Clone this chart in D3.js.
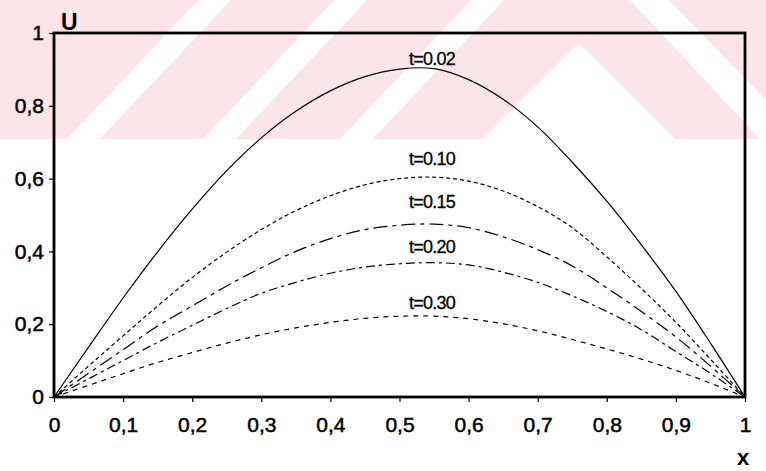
<!DOCTYPE html>
<html>
<head>
<meta charset="utf-8">
<script src="https://cdn.jsdelivr.net/npm/d3@7/dist/d3.min.js"></script>
<style>
html,body{margin:0;padding:0;background:#fff;}
svg{display:block;}
text{font-family:"Liberation Sans",Arial,sans-serif;fill:#000;}
</style>
</head>
<body>
<svg id="chart" width="766" height="471"></svg>
<script>
// ---- data ----
const xValues = [0,0.05,0.1,0.15,0.2,0.25,0.3,0.35,0.4,0.45,0.5,0.55,0.6,0.65,0.7,0.75,0.8,0.85,0.9,0.95,1];
const seriesNames = ["t=0.02","t=0.10","t=0.15","t=0.20","t=0.30"];
const u002 = [0,0.137,0.272,0.399,0.516,0.622,0.712,0.785,0.841,0.880,0.901,0.902,0.872,0.818,0.742,0.645,0.538,0.418,0.29,0.148,0];
const u010 = [0,0.085,0.168,0.25,0.328,0.398,0.46,0.512,0.553,0.583,0.60,0.604,0.593,0.566,0.523,0.465,0.385,0.298,0.205,0.104,0];
const u015 = [0,0.065,0.13,0.195,0.25,0.305,0.355,0.40,0.435,0.46,0.472,0.475,0.465,0.44,0.405,0.36,0.30,0.235,0.165,0.085,0];
const u020 = [0,0.05,0.10,0.15,0.197,0.243,0.285,0.315,0.34,0.357,0.366,0.369,0.363,0.343,0.315,0.278,0.235,0.185,0.125,0.065,0];
const u030 = [0,0.032,0.064,0.095,0.122,0.148,0.171,0.19,0.205,0.216,0.222,0.222,0.215,0.201,0.182,0.158,0.132,0.104,0.073,0.038,0];
const xTicks = [0,0.1,0.2,0.3,0.4,0.5,0.6,0.7,0.8,0.9,1];
const yTicks = [0,0.2,0.4,0.6,0.8,1];
const xTickLabels = ["0","0,1","0,2","0,3","0,4","0,5","0,6","0,7","0,8","0,9","1"];
const yTickLabels = ["0","0,2","0,4","0,6","0,8","1"];

// ---- drawing ----
(function(){
const svg = d3.select("#chart");
const W = 766, H = 471;
const mLeft = 54, mRight = 745, mTop = 33, mBottom = 397;
const x = d3.scaleLinear().domain([0,1]).range([mLeft,mRight]);
const y = d3.scaleLinear().domain([0,1]).range([mBottom,mTop]);

// faint watermark band
const wm = svg.append("g");
const pink = "#fce5e8";
wm.append("rect").attr("x",0).attr("y",0).attr("width",W).attr("height",139).attr("fill",pink);
const whiteShapes = [
  [[67,139],[100,139],[231,0],[198,0]],
  [[203,139],[236,139],[367,0],[334,0]],
  [[340,139],[373,139],[504,0],[471,0]],
  [[483,139],[579,43],[675,139]],
  [[630,0],[669,0],[766,100],[766,139],[760,139]]
];
wm.selectAll("polygon").data(whiteShapes).join("polygon")
  .attr("points", d => d.map(p => p.join(",")).join(" "))
  .attr("fill","#fff");

const series = [u002,u010,u015,u020,u030];
const dashes = [null,"4,3","14,5,4,5","9,4,3,4","5,5"];
const labelAt = [0.912,0.638,0.519,0.395,0.242];

const line = d3.line().x((d,i)=>x(xValues[i])).y(d=>y(d)).curve(d3.curveCatmullRom.alpha(0.5));

const g = svg.append("g");
series.forEach((s,k)=>{
  g.append("path").datum(s)
    .attr("d",line)
    .attr("fill","none")
    .attr("stroke","#000")
    .attr("stroke-width",1.2)
    .attr("stroke-dasharray",dashes[k]);
  g.append("text")
    .attr("x",x(0.547)).attr("y",y(labelAt[k]))
    .attr("text-anchor","middle")
    .attr("font-size","18px")
    .attr("letter-spacing","-0.8px")
    .attr("stroke","#000").attr("stroke-width",0.3)
    .text(seriesNames[k]);
});

// axes
const xAxis = d3.axisBottom(x).tickValues(xTicks).tickSize(5).tickPadding(15)
  .tickFormat((d,i)=>xTickLabels[i]);
const yAxis = d3.axisLeft(y).tickValues(yTicks).tickSize(5).tickPadding(5)
  .tickFormat((d,i)=>yTickLabels[i]);

const gx = svg.append("g").attr("transform",`translate(0,${mBottom})`).call(xAxis);
const gy = svg.append("g").attr("transform",`translate(${mLeft},0)`).call(yAxis);
[gx,gy].forEach(a=>{
  a.select(".domain").remove();
  a.selectAll(".tick line").attr("stroke","#000").attr("stroke-width",1.2);
  a.selectAll(".tick text").attr("font-size","21px").attr("font-family","'Liberation Sans',Arial,sans-serif")
    .attr("fill","#000").attr("stroke","#000").attr("stroke-width",0.5);
});

// frame
svg.append("rect").attr("x",mLeft).attr("y",mTop).attr("width",mRight-mLeft).attr("height",mBottom-mTop)
  .attr("fill","none").attr("stroke","#000").attr("stroke-width",2.8);

// axis titles
svg.append("text").attr("x",61).attr("y",30).attr("font-size","23px").attr("font-weight","bold").text("U");
svg.append("text").attr("x",737).attr("y",465).attr("font-size","22px").attr("font-weight","bold").text("x");
})();
</script>
</body>
</html>
